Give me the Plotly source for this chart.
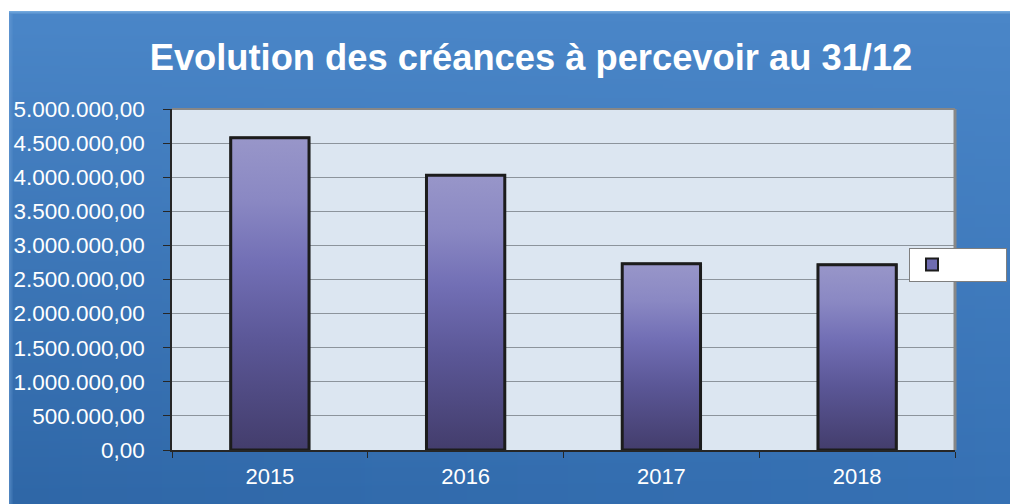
import zlib, struct, base64
import plotly.graph_objects as go

# ---- data ----
years = ["2015", "2016", "2017", "2018"]
values = [4580000, 4030000, 2730000, 2715000]
title_text = "Evolution des créances à percevoir au 31/12"

W, H = 1018, 504
ML, MR, MT, MB = 164, 71, 101, 62
PW, PH = W - ML - MR, H - MT - MB
FONT = "Liberation Sans, Arial, sans-serif"


def lerp(a, b, t):
    return tuple(int(round(a[i] + (b[i] - a[i]) * t)) for i in range(3))


def make_bg_png(w, h):
    top = (74, 134, 200)
    bl = (46, 102, 166)
    br = (53, 112, 179)
    rows = []
    for y in range(h):
        ty = y / (h - 1)
        row = bytearray(b"\x00")
        for x in range(w):
            tx = x / (w - 1)
            c = lerp(top, lerp(bl, br, tx), ty)
            if y < 3:
                c = lerp(c, (140, 190, 235), 0.6 - 0.18 * y)
            elif x < 4:
                c = lerp(c, (110, 160, 215), 0.5 - 0.12 * x)
            row += bytes(c)
        rows.append(bytes(row))
    raw = b"".join(rows)

    def chunk(t, d):
        c = struct.pack(">I", len(d)) + t + d
        return c + struct.pack(">I", zlib.crc32(t + d) & 0xFFFFFFFF)

    png = (b"\x89PNG\r\n\x1a\n"
           + chunk(b"IHDR", struct.pack(">IIBBBBB", w, h, 8, 2, 0, 0, 0))
           + chunk(b"IDAT", zlib.compress(raw, 9))
           + chunk(b"IEND", b""))
    return "data:image/png;base64," + base64.b64encode(png).decode()


# background box in figure pixels
bx0, by0 = 1, 3
bg_w, bg_h = W - bx0, H - by0
bg_uri = make_bg_png(bg_w, bg_h)

xs = list(range(len(years)))
half = 0.2
grad = [[0.0, "#433d6c"], [0.35, "#5b5797"], [0.6, "#726fb5"],
        [0.8, "#8a88c3"], [1.0, "#9896c9"]]

fig = go.Figure()
fig.add_trace(go.Bar(
    x=xs, y=values, width=2 * half, name="\u00a0" * 12,
    marker=dict(color="#6e6bb0", line=dict(color="#1c1c1c", width=2)),
    showlegend=True, hoverinfo="skip",
))
for i, v in zip(xs, values):
    fig.add_trace(go.Scatter(
        x=[i - half, i - half, i + half, i + half, i - half],
        y=[0, v, v, 0, 0],
        mode="lines", fill="toself",
        fillgradient=dict(type="vertical", colorscale=grad),
        line=dict(color="#1c1c1c", width=3),
        showlegend=False, hoverinfo="skip",
    ))

fig.update_layout(
    width=W, height=H,
    margin=dict(l=ML, r=MR, t=MT, b=MB, autoexpand=False),
    paper_bgcolor="white",
    plot_bgcolor="rgba(0,0,0,0)",
    separators=",.",
    font=dict(family=FONT, color="white"),
    title=dict(text="<b>" + title_text + "</b>", x=523 / W, xanchor="center",
               y=1 - 49 / H, yanchor="middle",
               font=dict(size=36.3, color="white", family=FONT)),
    showlegend=True,
    legend=dict(x=(901 - ML) / PW, y=1 - (240 - MT) / PH,
                xref="paper", yref="paper",
                xanchor="left", yanchor="top", itemwidth=34,
                bgcolor="white", bordercolor="#7f7f7f", borderwidth=1,
                font=dict(size=14, color="black", family=FONT)),
    images=[dict(source=bg_uri, xref="paper", yref="paper",
                 x=(bx0 - ML) / PW, y=1 - (by0 - MT) / PH,
                 sizex=bg_w / PW, sizey=bg_h / PH,
                 xanchor="left", yanchor="top", sizing="stretch",
                 layer="below")],
    shapes=[
        dict(type="rect", xref="x domain", yref="y domain", x0=0, x1=1, y0=0, y1=1,
             fillcolor="#dce6f1", line=dict(width=0), layer="below"),
        dict(type="line", xref="x domain", yref="y domain", x0=0, x1=1, y0=1, y1=1,
             line=dict(color="#878787", width=2), layer="above"),
        dict(type="line", xref="x domain", yref="y domain", x0=1, x1=1, y0=0, y1=1,
             line=dict(color="#878787", width=3), layer="above"),
    ],
)

fig.update_yaxes(
    automargin=False,
    range=[0, 5000000], dtick=500000, tick0=0, tickformat=",.2f",
    showgrid=True, gridcolor="#8c949c", gridwidth=1, zeroline=False,
    showline=True, linecolor="#262626", linewidth=1.5,
    ticks="outside", ticklen=7, tickcolor="#262626", ticklabelstandoff=14,
    tickfont=dict(size=22.5, color="white", family=FONT),
)
fig.update_xaxes(
    automargin=False,
    range=[-0.5, 3.5], tickvals=xs, ticktext=years,
    showgrid=False, zeroline=False,
    showline=True, linecolor="#262626", linewidth=2,
    ticks="", ticklabelstandoff=6,
    minor=dict(ticks="outside", tick0=-0.5, dtick=1, ticklen=6,
               tickcolor="#262626", showgrid=False),
    tickfont=dict(size=22, color="white", family=FONT),
)

fig.write_html("out.html")
